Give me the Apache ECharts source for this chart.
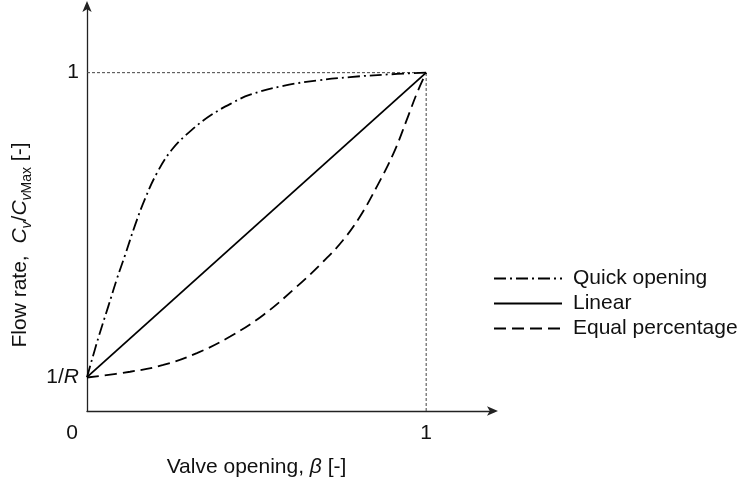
<!DOCTYPE html>
<html><head><meta charset="utf-8">
<script src="https://cdn.jsdelivr.net/npm/echarts@6/dist/echarts.min.js"></script>
<style>html,body{margin:0;padding:0;background:#fff}#c{width:741px;height:479px}</style>
</head><body><div id="c"></div>
<script>
// Data (valve opening beta, relative flow Cv/CvMax), R = 10
const quickOpening = [[0,0.1],[0.033,0.215],[0.063,0.31],[0.088,0.39],[0.112,0.46],[0.142,0.55],[0.171,0.627],[0.206,0.703],[0.25,0.772],[0.309,0.831],[0.368,0.876],[0.427,0.91],[0.481,0.935],[0.579,0.961],[0.678,0.977],[0.776,0.987],[0.874,0.994],[1,1]];
const linear = [[0,0.1],[1,1]];
const equalPercentage = [[0,0.099],[0.127,0.116],[0.225,0.136],[0.324,0.171],[0.422,0.22],[0.52,0.284],[0.619,0.368],[0.697,0.442],[0.756,0.506],[0.805,0.575],[0.855,0.664],[0.904,0.762],[0.943,0.861],[0.973,0.94],[1,1]];
const refHorizontal = [[0,1],[1,1]];
const refVertical = [[1,0],[1,1]];
const xTicks = [0,1];
const yTicks = [0.1,1];
const seriesNames = ['Quick opening','Linear','Equal percentage'];

const FONT = 'Liberation Sans, Arial, sans-serif';
const TXT = '#111';
const chart = echarts.init(document.getElementById('c'), null, {renderer:'canvas'});
chart.setOption({
  animation:false,
  backgroundColor:'#fff',
  grid:{left:87, top:5, right:247, bottom:68, containLabel:false, outerBoundsMode:'none'},
  legend:{
    orient:'vertical', left:493, top:266, padding:0, itemWidth:68, itemHeight:14, itemGap:0,
    data:seriesNames,
    itemStyle:{opacity:0},
    textStyle:{fontFamily:FONT, fontSize:21, color:TXT, lineHeight:25, padding:[0,0,0,6]}
  },
  xAxis:{
    type:'value', min:0, max:1.2,
    splitLine:{show:false},
    axisTick:{show:false},
    axisLine:{show:true, lineStyle:{color:'#222', width:1.3}, symbol:['none','arrow'], symbolSize:[7,11], symbolOffset:[0,4]},
    axisLabel:{
      customValues:xTicks, margin:12, fontFamily:FONT, fontSize:21, color:TXT,
      formatter:v => v===0 ? '{z|0}' : '1',
      rich:{z:{fontFamily:FONT, fontSize:21, color:TXT, padding:[0,30,0,0]}}
    },
    name:'Valve opening, {i|β} [-]', nameLocation:'middle', nameGap:46,
    nameTextStyle:{fontFamily:FONT, fontSize:21, color:TXT, padding:[0,68,0,0],
      rich:{i:{fontFamily:FONT, fontSize:21, fontStyle:'italic', color:TXT}}}
  },
  yAxis:{
    type:'value', min:0, max:1.2,
    splitLine:{show:false},
    axisTick:{show:false},
    axisLine:{show:true, lineStyle:{color:'#222', width:1.3}, symbol:['none','arrow'], symbolSize:[7,11], symbolOffset:[0,4]},
    axisLabel:{
      customValues:yTicks, margin:8, fontFamily:FONT, fontSize:21, color:TXT,
      formatter:v => v===1 ? '1' : '1/{i|R}',
      rich:{i:{fontFamily:FONT, fontSize:21, fontStyle:'italic', color:TXT}}
    },
    name:'Flow rate,  {i|C}{s|v}/{i|C}{s|v}{m|Max} [-]', nameLocation:'middle', nameGap:53, nameRotate:90,
    nameTextStyle:{fontFamily:FONT, fontSize:21, color:TXT, lineHeight:28, padding:[0,74,0,0],
      rich:{
        i:{fontFamily:FONT, fontSize:21, fontStyle:'italic', color:TXT, lineHeight:28},
        s:{fontFamily:FONT, fontSize:14, fontStyle:'italic', color:TXT, lineHeight:28, verticalAlign:'bottom'},
        m:{fontFamily:FONT, fontSize:14, color:TXT, lineHeight:28, verticalAlign:'bottom'}
      }}
  },
  series:[
    {name:'ref-h', type:'line', data:refHorizontal, symbol:'none', silent:true,
     lineStyle:{color:'#444', width:1, type:[3,2]}},
    {name:'ref-v', type:'line', data:refVertical, symbol:'none', silent:true,
     lineStyle:{color:'#444', width:1, type:[3,2]}},
    {name:seriesNames[0], type:'line', data:quickOpening, symbol:'none', smooth:0.4,
     lineStyle:{color:'#000', width:1.8, type:[12,4,2,4]}, itemStyle:{color:'#000'}},
    {name:seriesNames[1], type:'line', data:linear, symbol:'none',
     lineStyle:{color:'#000', width:1.8, type:'solid'}, itemStyle:{color:'#000'}},
    {name:seriesNames[2], type:'line', data:equalPercentage, symbol:'none', smooth:0.4,
     lineStyle:{color:'#000', width:1.8, type:[12,6]}, itemStyle:{color:'#000'}}
  ]
});
</script></body></html>
